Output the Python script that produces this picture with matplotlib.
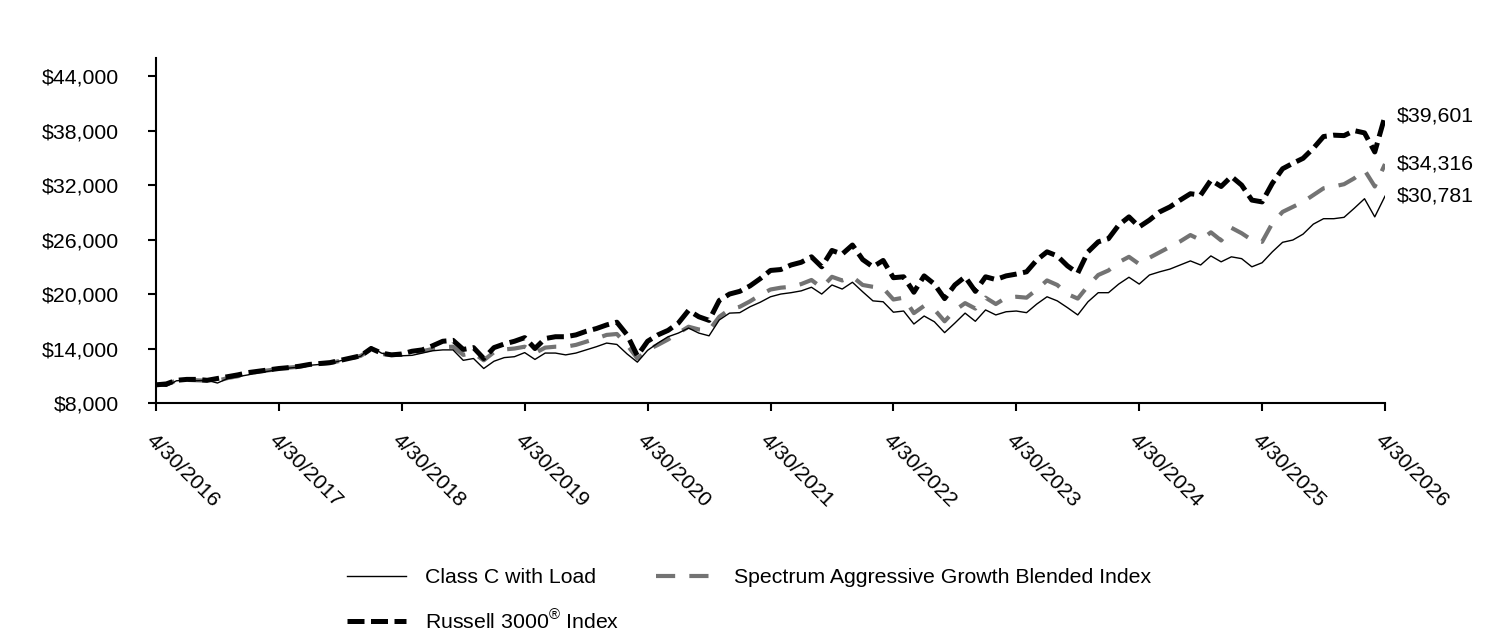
import matplotlib
matplotlib.use("Agg")
import matplotlib.pyplot as plt
import numpy as np

plt.rcParams['font.family'] = ['Liberation Sans', 'DejaVu Sans']
plt.rcParams['mathtext.fontset'] = 'custom'
plt.rcParams['mathtext.rm'] = 'Liberation Sans'

# ---- data (monthly, 4/30/2016 .. 4/30/2026) ----
tick_labels = ["4/30/2016", "4/30/2017", "4/30/2018", "4/30/2019", "4/30/2020",
               "4/30/2021", "4/30/2022", "4/30/2023", "4/30/2024", "4/30/2025",
               "4/30/2026"]

class_c = [
    10000, 9850, 10450, 10500, 10450, 10500, 10200, 10700, 10900, 11100, 11350, 11500,
    11700, 11850, 11950, 12150, 12250, 12350, 12650, 12900, 13150, 14200, 13500, 13200,
    13200, 13250, 13500, 13750, 13850, 13850, 12700, 12900, 11800, 12600, 13000, 13100,
    13550, 12800, 13500, 13500, 13300, 13500, 13850, 14200, 14600, 14450, 13400, 12500,
    13800, 14600, 15300, 15700, 16250, 15700, 15400, 17150, 17900, 17950, 18600, 19100,
    19700, 20000, 20150, 20350, 20750, 20000, 21000, 20550, 21300, 20250, 19250, 19150,
    18000, 18130, 16700, 17580, 16950, 15750, 16800, 17900, 17000, 18250, 17700, 18050,
    18130, 17950, 18900, 19700, 19250, 18500, 17700, 19150, 20150, 20150, 21100, 21850,
    21100, 22100, 22450, 22750, 23200, 23650, 23200, 24200, 23550, 24100, 23900, 23000,
    23450, 24650, 25700, 25950, 26600, 27700, 28300, 28300, 28450, 29450, 30500, 28500,
    30781]

spectrum = [
    10000, 10000, 10500, 10550, 10500, 10450, 10450, 10750, 10950, 11200, 11450, 11600,
    11750, 11900, 12000, 12200, 12300, 12400, 12650, 12900, 13200, 13900, 13400, 13300,
    13300, 13500, 13700, 13950, 14150, 14200, 13300, 13500, 12700, 13600, 13900, 14000,
    14200, 13500, 14100, 14200, 14200, 14400, 14750, 15100, 15500, 15600, 14400, 12900,
    13850, 14400, 15000, 15700, 16400, 16100, 16000, 17500, 18300, 18600, 19200, 19900,
    20500, 20700, 20800, 21100, 21550, 20700, 21900, 21500, 21900, 21000, 20800, 20650,
    19400, 19600, 17900, 18700, 18300, 17000, 18200, 19000, 18400, 19600, 18900, 19600,
    19700, 19600, 20500, 21500, 21000, 20000, 19500, 20900, 22100, 22600, 23500, 24100,
    23300, 24000, 24600, 25200, 25800, 26500, 25950, 26800, 25900, 27300, 26700, 25950,
    25750, 27800, 29050, 29600, 30150, 30900, 31650, 31850, 32100, 32750, 33650, 31850,
    34316]

russell = [
    10000, 10100, 10500, 10600, 10600, 10500, 10700, 10900, 11100, 11350, 11500, 11650,
    11800, 11900, 12050, 12250, 12350, 12450, 12700, 12950, 13200, 14000, 13500, 13300,
    13400, 13700, 13850, 14300, 14800, 14900, 13900, 14100, 12900, 14100, 14500, 14800,
    15200, 14000, 15100, 15300, 15300, 15500, 15900, 16200, 16600, 16900, 15500, 13200,
    14800, 15500, 16000, 16800, 18200, 17500, 17100, 19300, 20000, 20300, 20900, 21700,
    22600, 22700, 23200, 23500, 24100, 23000, 24800, 24400, 25400, 23800, 23000, 23700,
    21800, 21900, 20200, 22000, 21100, 19500, 21000, 21900, 20300, 21900, 21600, 22000,
    22200, 22450, 23750, 24650, 24200, 23100, 22300, 24650, 25750, 26100, 27600, 28500,
    27400, 28150, 29050, 29600, 30350, 31050, 30900, 32550, 31850, 32950, 32000, 30350,
    30150, 32200, 33800, 34400, 34950, 36050, 37350, 37500, 37450, 38000, 37750, 35650,
    39601]

series_names = ["Class C with Load", "Russell 3000$^{\u00ae}$ Index",
                "Spectrum Aggressive Growth Blended Index"]
end_labels = ["$30,781", "$39,601", "$34,316"]

y_ticks = [8000, 14000, 20000, 26000, 32000, 38000, 44000]

# ---- figure ----
fig = plt.figure(figsize=(15.12, 6.36), dpi=100)
ax = fig.add_axes([156 / 1512, 1 - 403 / 636, (1385 - 156) / 1512, (403 - 58) / 636])

x = np.arange(len(class_c))
FS = 15.3

l_spec, = ax.plot(x, spectrum, color='#737373', lw=3.0, dashes=(4.6, 3.4), zorder=2,
                  label=series_names[2])
l_rus, = ax.plot(x, russell, color='black', lw=3.6, dashes=(3.4, 1.3), zorder=3,
                 label=series_names[1])
l_fund, = ax.plot(x, class_c, color='black', lw=1.0, zorder=4, label=series_names[0])

for vals, lab in zip([class_c, russell, spectrum], end_labels):
    ax.annotate(lab, xy=(x[-1], vals[-1]), xytext=(8.5, 0), textcoords='offset points',
                va='center', ha='left', fontsize=FS, annotation_clip=False)

ax.set_xlim(0, len(class_c) - 1)
ax.set_ylim(8000, 46000)
ax.set_yticks(y_ticks)
ax.set_yticklabels([f"${v:,.0f}" for v in y_ticks], fontsize=FS)
ax.set_xticks(np.arange(0, len(class_c), 12))
ax.set_xticklabels(tick_labels, fontsize=FS, rotation=-45, ha='left', va='top',
                   rotation_mode='anchor')

for s in ['top', 'right']:
    ax.spines[s].set_visible(False)
for s in ['left', 'bottom']:
    ax.spines[s].set_linewidth(1.5)
ax.tick_params(axis='both', direction='out', length=6, width=1.5)
ax.tick_params(axis='x', pad=14)
ax.tick_params(axis='y', pad=21)

fig.legend(handles=[l_fund, l_rus, l_spec], labels=[h.get_label() for h in [l_fund, l_rus, l_spec]],
           ncol=2, frameon=False, fontsize=FS, loc='center',
           bbox_to_anchor=(749 / 1512, 1 - 600 / 636),
           handlelength=2.8, handletextpad=0.9, columnspacing=1.7, labelspacing=1.0)

fig.savefig("out.png", dpi=100)
